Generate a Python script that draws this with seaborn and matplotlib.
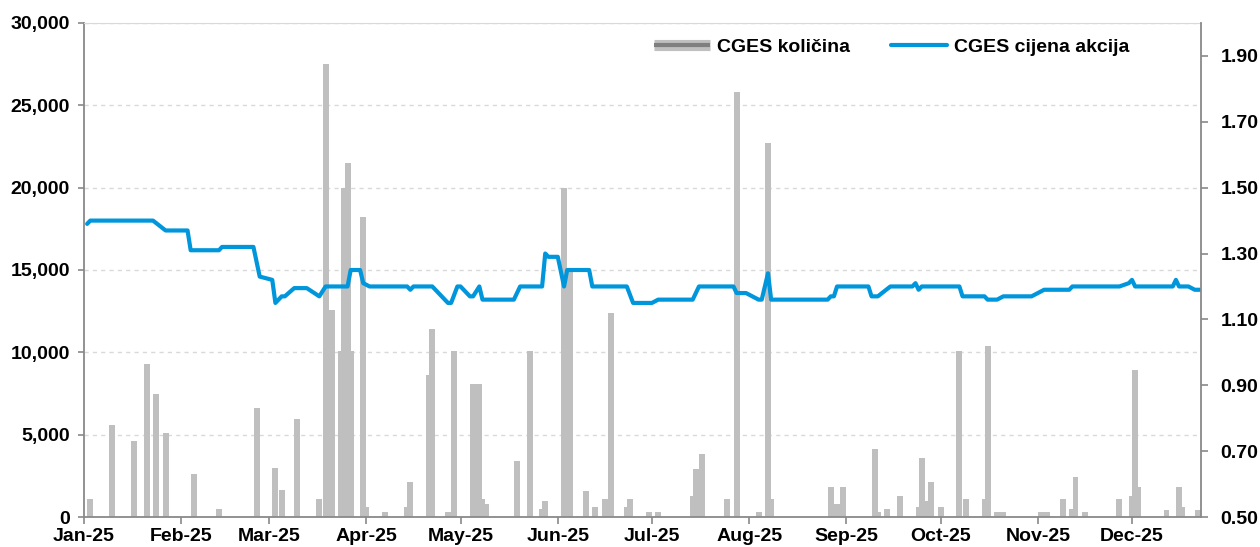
import pandas as pd
import numpy as np
from matplotlib import pyplot as plt
import matplotlib.dates as mdates
import matplotlib.ticker as mticker
import matplotlib.patheffects as pe
from matplotlib.lines import Line2D
import seaborn as sns

# daily traded quantity (only days with trades)
vol_dates = ['2025-01-03', '2025-01-10', '2025-01-17', '2025-01-21', '2025-01-24', '2025-01-27',
             '2025-02-05', '2025-02-13', '2025-02-25',
             '2025-03-03', '2025-03-05', '2025-03-10', '2025-03-17', '2025-03-19', '2025-03-21',
             '2025-03-24', '2025-03-25', '2025-03-26', '2025-03-27', '2025-03-31',
             '2025-04-01', '2025-04-07', '2025-04-14', '2025-04-15', '2025-04-21', '2025-04-22',
             '2025-04-27', '2025-04-29',
             '2025-05-05', '2025-05-07', '2025-05-08', '2025-05-09', '2025-05-19', '2025-05-23',
             '2025-05-27', '2025-05-28',
             '2025-06-03', '2025-06-05', '2025-06-10', '2025-06-13', '2025-06-16', '2025-06-18',
             '2025-06-23', '2025-06-24', '2025-06-30',
             '2025-07-03', '2025-07-14', '2025-07-15', '2025-07-16', '2025-07-17', '2025-07-25',
             '2025-07-28',
             '2025-08-04', '2025-08-07', '2025-08-08', '2025-08-27', '2025-08-29', '2025-08-31',
             '2025-09-10', '2025-09-11', '2025-09-14', '2025-09-18', '2025-09-24', '2025-09-25',
             '2025-09-26', '2025-09-28',
             '2025-10-01', '2025-10-07', '2025-10-09', '2025-10-15', '2025-10-16', '2025-10-19',
             '2025-10-21',
             '2025-11-02', '2025-11-04', '2025-11-09', '2025-11-12', '2025-11-13', '2025-11-16',
             '2025-11-27',
             '2025-12-01', '2025-12-02', '2025-12-03', '2025-12-12', '2025-12-16', '2025-12-17',
             '2025-12-22']
vol_values = [1100, 5600, 4600, 9300, 7450, 5100,
              2600, 470, 6600,
              2950, 1650, 5950, 1100, 27500, 12600,
              10100, 20000, 21500, 10100, 18200,
              630, 290, 630, 2100, 8600, 11400,
              290, 10100,
              8100, 8100, 1100, 800, 3400, 10100,
              470, 1000,
              20000, 15000, 1600, 630, 1100, 12400,
              630, 1100, 290,
              290, 1300, 2900, 1650, 3800, 1100,
              25800,
              290, 22700, 1100, 1800, 800, 1800,
              4100, 290, 470, 1300, 630, 3600,
              1000, 2100,
              630, 10100, 1100, 1100, 10400, 290,
              290,
              290, 290, 1100, 470, 2450, 290,
              1100,
              1300, 8950, 1800, 420, 1800, 630,
              420]

# share price (points where the line changes)
price_dates = ['2025-01-02', '2025-01-03', '2025-01-23', '2025-01-27', '2025-02-03', '2025-02-04',
               '2025-02-13', '2025-02-14', '2025-02-24', '2025-02-26', '2025-03-02', '2025-03-03',
               '2025-03-05', '2025-03-06', '2025-03-09', '2025-03-13', '2025-03-17', '2025-03-19',
               '2025-03-26', '2025-03-27', '2025-03-30', '2025-03-31', '2025-04-02', '2025-04-14',
               '2025-04-15', '2025-04-16', '2025-04-22', '2025-04-27', '2025-04-28', '2025-04-30',
               '2025-05-01', '2025-05-04', '2025-05-05', '2025-05-07', '2025-05-08', '2025-05-18',
               '2025-05-20', '2025-05-27', '2025-05-28', '2025-05-29', '2025-06-01', '2025-06-03',
               '2025-06-04', '2025-06-11', '2025-06-12', '2025-06-23', '2025-06-25', '2025-07-01',
               '2025-07-03', '2025-07-14', '2025-07-16', '2025-07-27', '2025-07-28', '2025-07-31',
               '2025-08-04', '2025-08-05', '2025-08-07', '2025-08-08', '2025-08-26', '2025-08-27',
               '2025-08-28', '2025-08-29', '2025-09-08', '2025-09-09', '2025-09-11', '2025-09-15',
               '2025-09-22', '2025-09-23', '2025-09-24', '2025-09-25', '2025-10-07', '2025-10-08',
               '2025-10-15', '2025-10-16', '2025-10-19', '2025-10-21', '2025-10-30', '2025-11-01',
               '2025-11-03', '2025-11-11', '2025-11-12', '2025-11-27', '2025-11-30', '2025-12-01',
               '2025-12-02', '2025-12-14', '2025-12-15', '2025-12-16', '2025-12-19', '2025-12-21',
               '2025-12-23']
price_values = [1.39, 1.40, 1.40, 1.37, 1.37, 1.31,
                1.31, 1.32, 1.32, 1.23, 1.22, 1.15,
                1.17, 1.17, 1.195, 1.195, 1.17, 1.20,
                1.20, 1.25, 1.25, 1.21, 1.20, 1.20,
                1.19, 1.20, 1.20, 1.15, 1.15, 1.20,
                1.20, 1.17, 1.17, 1.20, 1.16, 1.16,
                1.20, 1.20, 1.30, 1.29, 1.29, 1.20,
                1.25, 1.25, 1.20, 1.20, 1.15, 1.15,
                1.16, 1.16, 1.20, 1.20, 1.18, 1.18,
                1.16, 1.16, 1.24, 1.16, 1.16, 1.17,
                1.17, 1.20, 1.20, 1.17, 1.17, 1.20,
                1.20, 1.21, 1.19, 1.20, 1.20, 1.17,
                1.17, 1.16, 1.16, 1.17, 1.17, 1.18,
                1.19, 1.19, 1.20, 1.20, 1.21, 1.22,
                1.20, 1.20, 1.22, 1.20, 1.20, 1.19,
                1.19]

vol = pd.DataFrame({'date': pd.to_datetime(vol_dates), 'qty': vol_values})
price = pd.DataFrame({'date': pd.to_datetime(price_dates), 'price': price_values})

sns.set_style('white')
plt.rcParams['font.family'] = ['Liberation Sans', 'DejaVu Sans']
plt.rcParams['font.weight'] = 'bold'

spine_col = '#898989'
grid_col = '#d9d9d9'
bar_col = '#bfbfbf'
line_col = '#0096db'
fs = 14

fig, ax = plt.subplots(figsize=(12.6, 5.47), dpi=100)
fig.subplots_adjust(left=84 / 1260, right=1201 / 1260, bottom=1 - 517 / 547, top=1 - 23 / 547)

ax.bar(vol['date'], vol['qty'], width=1.9, color=bar_col, edgecolor='none', linewidth=0, zorder=2)
ax.set_ylim(0, 30000)
ax.set_yticks(np.arange(0, 30001, 5000))
ax.yaxis.set_major_formatter(mticker.StrMethodFormatter('{x:,.0f}'))
ax.set_xlim(pd.Timestamp('2025-01-01'), pd.Timestamp('2025-12-23'))
ax.xaxis.set_major_locator(mdates.MonthLocator())
ax.xaxis.set_major_formatter(mdates.DateFormatter('%b-%y'))
ax.set_axisbelow(True)
ax.yaxis.grid(True, color=grid_col, linestyle=(0, (3, 3)), linewidth=1)

ax2 = ax.twinx()
sns.lineplot(data=price, x='date', y='price', ax=ax2, color=line_col, linewidth=3)
ax2.set_ylim(0.5, 2.0)
ax2.set_yticks(np.arange(0.5, 1.91, 0.2))
ax2.yaxis.set_major_formatter(mticker.StrMethodFormatter('{x:.2f}'))
ax2.set_xlabel('')
ax2.set_ylabel('')
ax.set_xlabel('')
ax.set_ylabel('')

for s in ['left', 'bottom']:
    ax.spines[s].set_color(spine_col)
    ax.spines[s].set_linewidth(1.3)
ax.spines['top'].set_color(grid_col)
ax.spines['right'].set_visible(False)
for s in ['left', 'bottom', 'top']:
    ax2.spines[s].set_visible(False)
ax2.spines['right'].set_color(spine_col)
ax2.spines['right'].set_linewidth(1.3)

ax.tick_params(axis='y', left=True, length=4, width=1.2, color=spine_col, pad=6,
               labelsize=fs, labelcolor='black')
ax.tick_params(axis='x', bottom=True, length=5, width=1.2, color=spine_col, pad=3,
               labelsize=fs, labelcolor='black')
ax2.tick_params(axis='y', right=True, length=5, width=1.2, color=spine_col, pad=9,
                labelsize=fs, labelcolor='black')

h_vol = Line2D([0], [0], color='#7f7f7f', linewidth=3, solid_capstyle='butt',
               path_effects=[pe.Stroke(linewidth=8, foreground=bar_col), pe.Normal()])
h_price = Line2D([0], [0], color=line_col, linewidth=3)
ax2.legend(handles=[h_vol, h_price], labels=['CGES količina', 'CGES cijena akcija'],
           loc='center', bbox_to_anchor=(0.723, 0.951), ncol=2, frameon=False,
           handlelength=2.9, columnspacing=2.1, handletextpad=0.35,
           prop={'weight': 'bold', 'size': fs}, labelcolor='black')

plt.savefig('out.png', dpi=100)
